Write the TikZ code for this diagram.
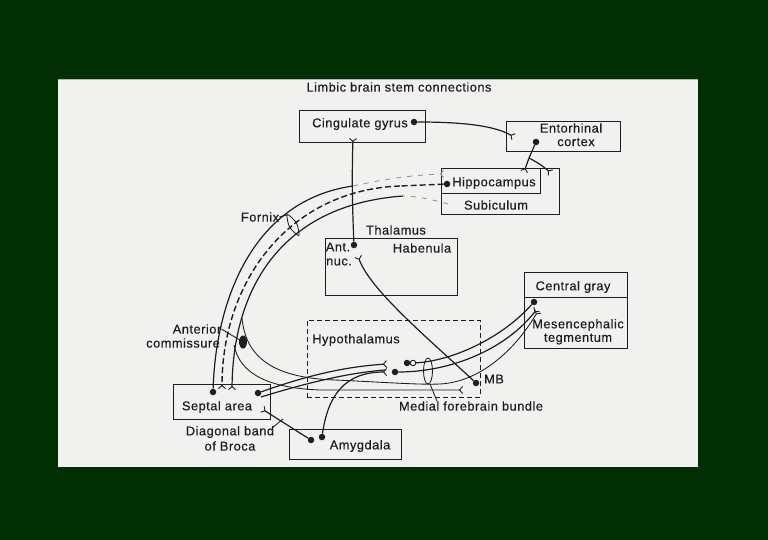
\documentclass[tikz,border=0pt]{standalone}
\usepackage{fontspec}
\setmainfont{Liberation Sans}[LetterSpace=4,FakeBold=0.4]
\usetikzlibrary{arrows.meta}
\definecolor{bg}{RGB}{2,46,4}
\definecolor{paper}{RGB}{241,241,239}
\definecolor{ink}{RGB}{30,30,30}
\definecolor{faint}{RGB}{150,150,150}
\begin{document}
\begin{tikzpicture}[x=1pt,y=-1pt,
  font=\fontsize{12.8}{14}\selectfont,
  box/.style={draw=ink, line width=0.9pt, inner sep=0pt},
  lbl/.style={inner sep=0pt, text=ink},
  dot/.style={circle, fill=ink, inner sep=0pt, minimum size=6.5pt},
  wire/.style={draw=ink, line width=1.2pt},
  thin wire/.style={draw=ink, line width=0.85pt},
  syn/.style={-{Straight Barb[reversed,length=3pt,width=7pt,line width=0.9pt]}},
  fdash/.style={draw=faint, dash pattern=on 5pt off 6pt, line width=0.9pt},
  bdash/.style={draw=ink, dash pattern=on 6pt off 3pt, line width=1.4pt}
]
\useasboundingbox (0,0) rectangle (768,540);
\fill[bg] (0,0) rectangle (768,540);
\fill[paper] (58,79) rectangle (698,467);
\draw[gray!60, line width=1.5pt] (58,79.7) -- (698,79.7);

% title
\node[lbl] (title) at (399,87) {Limbic brain stem connections};

% boxes
\node[box, minimum width=126pt, minimum height=32pt] (cing) at (362,126) {};
\node[box, minimum width=114pt, minimum height=30pt] (ento) at (563,136) {};
\node[box, minimum width=118pt, minimum height=46pt] (hipo) at (500,191) {};
\draw[ink, line width=0.9pt] (540,168) -- (540,193) -- (441,193);
\node[box, minimum width=132pt, minimum height=57pt] (thal) at (391,266.5) {};
\node[box, line width=0.8pt, dash pattern=on 5pt off 3pt, minimum width=173pt, minimum height=77pt] (hypo) at (393.5,358.5) {};
\node[box, minimum width=103pt, minimum height=76pt] (cgbox) at (575.5,310) {};
\draw[ink, line width=0.9pt] (cgbox.west |- 0,297) -- (cgbox.east |- 0,297);
\node[box, minimum width=97pt, minimum height=35pt] (sept) at (221.5,401.5) {};
\node[box, minimum width=112pt, minimum height=30pt] (amyg) at (345,444) {};

% labels
\node[lbl] (tCing) at (360,124) {Cingulate gyrus};
\node[lbl] (tEnt1) at (571,128) {Entorhinal};
\node[lbl] (tEnt2) at (576,142) {cortex};
\node[lbl] (tHip) at (494,183) {Hippocampus};
\node[lbl] (tSub) at (496,205) {Subiculum};
\node[lbl] (tFornix) at (260,217) {Fornix};
\node[lbl] (tThal) at (396,230) {Thalamus};
\node[lbl] (tAnt) at (338,247) {Ant.};
\node[lbl] (tNuc) at (339,262) {nuc.};
\node[lbl] (tHab) at (422,248) {Habenula};
\node[lbl] (tHypo) at (356,340) {Hypothalamus};
\node[lbl] (tAnt2) at (197,329) {Anterior};
\node[lbl] (tComm) at (183,343) {commissure};
\node[lbl] (tSept) at (217,407) {Septal area};
\node[lbl] (tDiag1) at (230,432) {Diagonal band};
\node[lbl] (tDiag2) at (230,446) {of Broca};
\node[lbl] (tAmy) at (360,446) {Amygdala};
\node[lbl] (tCG) at (573,287) {Central gray};
\node[lbl] (tMes1) at (578,325) {Mesencephalic};
\node[lbl] (tMes2) at (578,339) {tegmentum};
\node[lbl] (tMB) at (494,379) {MB};
\node[lbl] (tMFB) at (471,406) {Medial forebrain bundle};

% dots
\node[dot] (dCing) at (414,122) {};
\node[dot] (dEnt) at (536,142) {};
\node[dot] (dHip) at (447,184) {};
\node[dot] (dAnt) at (354,245) {};
\node[dot] (dCG) at (534,302) {};
\node[dot] (dHyp1) at (407,363) {};
\node[circle, draw=ink, line width=0.9pt, inner sep=0pt, minimum size=5.5pt] (oHyp) at (413,363) {};
\node[dot] (dHyp2) at (395,372) {};
\node[dot] (dMB) at (476,383) {};
\node[dot] (dSep1) at (213,392) {};
\node[dot] (dSep2) at (258,393) {};
\node[dot] (dAmy1) at (311,440) {};
\node[dot] (dAmy2) at (322,437) {};
\fill[ink] (243,342) ellipse [x radius=4, y radius=6.5];
\coordinate (acBlob) at (243,342);

% free ends
\coordinate (fEnt) at (514,137);
\coordinate (entBr) at (529,158);
\coordinate (fHip1) at (524,172);
\coordinate (fHip2) at (551,173);
\coordinate (fCing) at (353,138);
\coordinate (fAnt) at (358,256);
\coordinate (fxTop) at (353,186);
\coordinate (fHipIn) at (444,174);
\coordinate (fdMid) at (400,186);
\coordinate (fSepA) at (222,389);
\coordinate (fSub) at (448,204);
\coordinate (fxIn) at (403,196);
\coordinate (fSepB) at (232,390);
\coordinate (c1s) at (242,318);
\coordinate (c1e) at (538,311);
\coordinate (c2s) at (234,345);
\coordinate (c2e) at (463,390);
\coordinate (tubeA) at (387,364);
\coordinate (tubeB0) at (261,397);
\coordinate (tubeB) at (385,370);
\coordinate (fAmyH) at (387,372);
\coordinate (fSepAmy) at (262,409);
\coordinate (fCG) at (537,309);

% connections
\draw[wire,syn] (dCing) .. controls (465,122) and (495,126) .. (fEnt);
\draw[wire] (dEnt) -- (entBr);
\draw[wire,syn] (entBr) -- (fHip1);
\draw[wire,syn] (entBr) .. controls (540,164) .. (fHip2);
\draw[wire,syn] (dAnt) .. controls (352,200) and (352,170) .. (fCing);
\draw[wire,syn] (dMB) .. controls (430,340) and (370,290) .. (fAnt);

% fornix
\draw[wire] (dSep1) .. controls (216,298) and (254,200) .. (fxTop);
\draw[fdash,syn] (fxTop) .. controls (380,180) and (410,175) .. (fHipIn);
\draw[bdash] (dHip) -- (fdMid);
\draw[bdash,syn] (fdMid) .. controls (290,190) and (222,280) .. (fSepA);
\draw[fdash] (fSub) .. controls (430,199) and (415,196) .. (fxIn);
\draw[wire,syn] (fxIn) .. controls (280,205) and (233,290) .. (fSepB);
\draw[thin wire] plot[smooth cycle] coordinates {(287.2,214.4) (296.5,223.1) (298.8,235.6) (289.5,226.9)};
\draw[thin wire] (tFornix.east) -- (287,215);

% anterior commissure / MFB
\draw[thin wire] (tAnt2.east) -- (acBlob);
\draw[thin wire,syn] (c1s) .. controls (246,362) and (280,378) .. (335,380) .. controls (380,382) and (420,385) .. (440,384) .. controls (480,382) and (515,350) .. (c1e);
\draw[thin wire,syn] (c2s) .. controls (240,375) and (270,388) .. (320,390) -- (c2e);
\draw[wire,syn] (dSep2) .. controls (300,378) and (340,367) .. (tubeA);
\draw[wire] (tubeB0) .. controls (300,385) and (345,373) .. (tubeB);
\draw[wire,syn] (dAmy2) .. controls (328,395) and (345,372) .. (fAmyH);
\draw[wire,syn] (dAmy1) -- (fSepAmy);
\draw[wire] (oHyp) .. controls (450,361) and (500,340) .. (dCG);
\draw[wire,syn] (dHyp2) .. controls (450,372) and (505,350) .. (fCG);
\draw[thin wire] (428,371) ellipse [x radius=4.5, y radius=13];
\coordinate (mfbMark) at (430,384);
\draw[thin wire] (mfbMark) -- (tMFB.north -| 437,0);
\draw[thin wire] (272,428) -- (283,419);
\end{tikzpicture}
\end{document}
